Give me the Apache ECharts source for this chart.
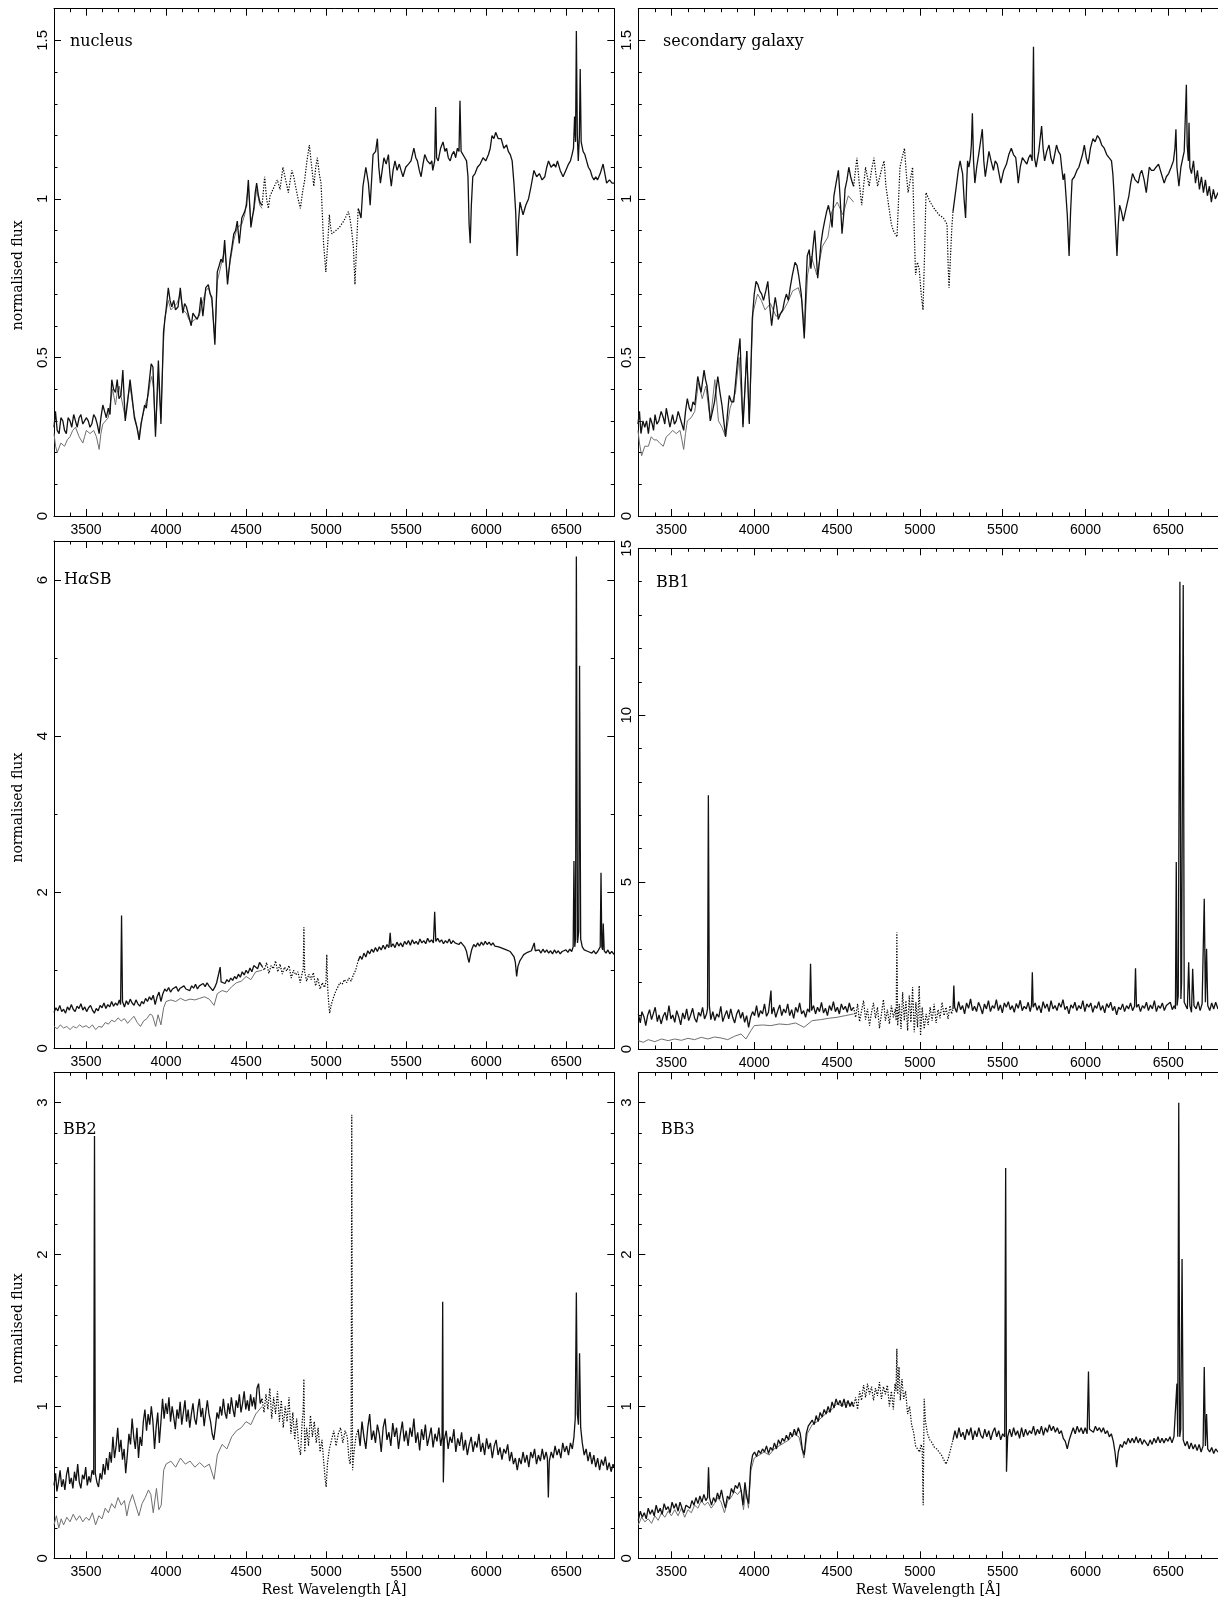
<!DOCTYPE html>
<html>
<head>
<meta charset="utf-8">
<script src="https://cdn.jsdelivr.net/npm/echarts@6/dist/echarts.min.js"></script>
<style>
html,body{margin:0;padding:0;background:#fff;}
#chart{width:1218px;height:1603px;}
</style>
</head>
<body>
<div id="chart"></div>
<script>
// Wavelength tick labels shared by every panel (Angstrom)
const xTickValues = [3500, 4000, 4500, 5000, 5500, 6000, 6500];

// ---- nucleus ----
const nucleusYTicks = [0, 0.5, 1, 1.5];
const nucleusBlue = [[3300,0.28],[3309,0.33],[3320,0.27],[3332,0.26],[3343,0.31],[3355,0.30],[3366,0.27],[3377,0.26],[3388,0.31],[3400,0.30],[3411,0.28],[3423,0.32],[3434,0.30],[3445,0.28],[3457,0.31],[3468,0.32],[3480,0.29],[3491,0.30],[3502,0.31],[3514,0.30],[3525,0.28],[3536,0.29],[3548,0.32],[3559,0.31],[3570,0.29],[3582,0.26],[3593,0.31],[3605,0.35],[3616,0.33],[3627,0.31],[3639,0.34],[3650,0.32],[3661,0.43],[3672,0.40],[3684,0.39],[3695,0.43],[3706,0.37],[3718,0.38],[3730,0.46],[3745,0.30],[3760,0.36],[3775,0.43],[3789,0.37],[3802,0.31],[3818,0.28],[3832,0.24],[3844,0.29],[3855,0.32],[3866,0.35],[3877,0.34],[3890,0.40],[3907,0.48],[3918,0.47],[3934,0.25],[3952,0.49],[3968,0.29],[3984,0.58],[4002,0.66],[4014,0.72],[4025,0.68],[4036,0.66],[4048,0.68],[4059,0.65],[4075,0.66],[4089,0.72],[4105,0.64],[4116,0.67],[4127,0.66],[4142,0.63],[4157,0.60],[4168,0.64],[4180,0.63],[4195,0.62],[4207,0.64],[4218,0.69],[4230,0.63],[4248,0.72],[4264,0.73],[4276,0.70],[4286,0.69],[4305,0.54],[4320,0.77],[4332,0.79],[4343,0.81],[4355,0.80],[4366,0.87],[4384,0.73],[4400,0.81],[4412,0.85],[4423,0.89],[4434,0.90],[4445,0.93],[4457,0.86],[4473,0.94],[4491,0.96],[4503,0.98],[4514,1.06],[4530,0.91],[4548,0.97],[4557,1.02],[4566,1.05],[4577,1.01],[4586,0.99],[4600,0.98]];
const nucleusGap = [[4600,0.98],[4616,1.07],[4628,1.00],[4639,0.97],[4650,1.01],[4661,1.01],[4677,1.04],[4695,1.06],[4712,1.03],[4730,1.10],[4747,1.06],[4764,1.02],[4776,1.06],[4786,1.09],[4798,1.07],[4809,1.04],[4825,1.00],[4839,0.97],[4852,1.02],[4866,1.06],[4880,1.12],[4895,1.17],[4910,1.10],[4923,1.04],[4935,1.10],[4945,1.13],[4957,1.08],[4968,1.05],[4984,0.86],[4998,0.77],[5010,0.86],[5020,0.95],[5028,0.91],[5036,0.89],[5060,0.90],[5082,0.91],[5110,0.93],[5139,0.96],[5148,0.94],[5157,0.91],[5170,0.85],[5180,0.73],[5190,0.85],[5200,0.97]];
const nucleusRed = [[5200,0.97],[5207,0.96],[5218,0.94],[5230,1.04],[5248,1.10],[5264,1.05],[5275,0.98],[5293,1.14],[5309,1.15],[5320,1.19],[5329,1.10],[5339,1.05],[5350,1.09],[5361,1.13],[5375,1.11],[5389,1.14],[5398,1.08],[5407,1.04],[5418,1.09],[5430,1.12],[5443,1.09],[5457,1.11],[5468,1.09],[5480,1.07],[5497,1.10],[5514,1.11],[5530,1.12],[5548,1.16],[5560,1.13],[5570,1.12],[5582,1.09],[5593,1.07],[5605,1.11],[5616,1.14],[5632,1.12],[5650,1.11],[5660,1.12],[5666,1.09],[5678,1.12],[5684,1.29],[5690,1.13],[5700,1.12],[5715,1.16],[5730,1.18],[5742,1.15],[5752,1.16],[5763,1.13],[5775,1.12],[5786,1.14],[5798,1.15],[5809,1.13],[5820,1.16],[5830,1.15],[5836,1.31],[5843,1.15],[5855,1.15],[5866,1.13],[5877,1.12],[5886,1.07],[5893,0.92],[5900,0.86],[5907,0.98],[5916,1.07],[5930,1.08],[5945,1.10],[5962,1.11],[5980,1.13],[5997,1.12],[6014,1.14],[6025,1.16],[6036,1.20],[6048,1.19],[6059,1.21],[6075,1.19],[6093,1.19],[6110,1.16],[6127,1.17],[6138,1.15],[6150,1.14],[6162,1.12],[6173,1.05],[6184,0.96],[6193,0.82],[6202,0.93],[6211,0.99],[6220,0.97],[6230,0.95],[6247,0.98],[6264,1.00],[6280,1.04],[6298,1.09],[6315,1.07],[6332,1.08],[6349,1.06],[6366,1.07],[6378,1.10],[6389,1.12],[6405,1.10],[6423,1.11],[6434,1.10],[6445,1.12],[6462,1.09],[6480,1.07],[6497,1.09],[6514,1.11],[6526,1.12],[6536,1.14],[6545,1.16],[6552,1.26],[6558,1.18],[6563,1.53],[6569,1.20],[6575,1.12],[6582,1.20],[6587,1.41],[6593,1.18],[6605,1.15],[6616,1.14],[6627,1.12],[6638,1.10],[6650,1.09],[6662,1.07],[6673,1.06],[6684,1.07],[6695,1.06],[6712,1.08],[6730,1.11],[6741,1.08],[6752,1.05],[6770,1.06],[6786,1.05],[6800,1.05]];
const nucleusFit = [[3300,0.26],[3310,0.22],[3320,0.20],[3343,0.23],[3366,0.22],[3383,0.24],[3400,0.25],[3417,0.27],[3434,0.28],[3457,0.25],[3480,0.23],[3491,0.25],[3502,0.27],[3525,0.26],[3548,0.27],[3565,0.25],[3582,0.21],[3593,0.26],[3605,0.29],[3622,0.30],[3639,0.31],[3650,0.35],[3666,0.40],[3684,0.35],[3695,0.39],[3707,0.41],[3718,0.38],[3730,0.38],[3745,0.31],[3760,0.37],[3775,0.41],[3789,0.36],[3802,0.32],[3818,0.28],[3832,0.25],[3846,0.30],[3861,0.33],[3875,0.36],[3889,0.38],[3900,0.42],[3911,0.44],[3922,0.40],[3934,0.27],[3952,0.44],[3968,0.31],[3980,0.50],[3991,0.62],[4014,0.68],[4030,0.65],[4048,0.66],[4068,0.67],[4089,0.70],[4105,0.65],[4127,0.64],[4142,0.62],[4157,0.61],[4180,0.62],[4207,0.63],[4220,0.66],[4248,0.71],[4264,0.72],[4286,0.68],[4305,0.56],[4320,0.74],[4343,0.79],[4366,0.84],[4384,0.75],[4400,0.80],[4423,0.87],[4445,0.91],[4473,0.92],[4491,0.95],[4514,1.04],[4530,0.93],[4548,0.96],[4566,1.03],[4586,0.98],[4600,0.97]];

// ---- secondary galaxy ----
const secondaryYTicks = [0, 0.5, 1, 1.5];
const secondaryBlue = [[3298,0.29],[3307,0.33],[3316,0.26],[3328,0.30],[3339,0.28],[3350,0.30],[3361,0.26],[3372,0.31],[3384,0.29],[3392,0.27],[3401,0.32],[3412,0.29],[3424,0.30],[3438,0.33],[3451,0.31],[3460,0.29],[3469,0.34],[3480,0.31],[3491,0.28],[3507,0.32],[3518,0.29],[3529,0.30],[3541,0.33],[3552,0.31],[3563,0.29],[3574,0.27],[3585,0.33],[3596,0.37],[3608,0.34],[3619,0.33],[3630,0.36],[3641,0.35],[3659,0.44],[3679,0.39],[3697,0.46],[3706,0.43],[3715,0.41],[3725,0.36],[3735,0.30],[3748,0.33],[3760,0.36],[3780,0.44],[3793,0.39],[3805,0.35],[3816,0.30],[3827,0.25],[3838,0.32],[3849,0.38],[3862,0.36],[3876,0.36],[3887,0.42],[3899,0.49],[3914,0.56],[3932,0.28],[3944,0.40],[3955,0.52],[3970,0.29],[3988,0.62],[4000,0.70],[4011,0.74],[4022,0.73],[4033,0.71],[4045,0.70],[4056,0.68],[4070,0.71],[4082,0.74],[4094,0.66],[4105,0.60],[4116,0.65],[4127,0.69],[4136,0.66],[4145,0.62],[4160,0.64],[4172,0.65],[4183,0.68],[4194,0.70],[4206,0.68],[4217,0.72],[4230,0.76],[4246,0.80],[4258,0.79],[4268,0.76],[4284,0.70],[4293,0.63],[4302,0.56],[4312,0.72],[4320,0.82],[4332,0.84],[4342,0.78],[4355,0.85],[4365,0.90],[4374,0.83],[4383,0.75],[4393,0.80],[4403,0.86],[4414,0.90],[4425,0.93],[4437,0.96],[4448,0.98],[4460,0.95],[4470,0.91],[4481,1.01],[4494,1.05],[4508,1.09],[4519,1.00],[4530,0.89],[4540,0.95],[4548,1.03],[4560,1.06],[4571,1.10],[4582,1.07],[4593,1.05],[4600,1.04]];
const secondaryGap = [[4600,1.04],[4620,1.13],[4634,1.05],[4649,0.98],[4660,1.04],[4672,1.10],[4683,1.07],[4694,1.04],[4708,1.09],[4723,1.13],[4734,1.08],[4745,1.04],[4758,1.07],[4772,1.10],[4784,1.12],[4795,1.04],[4806,1.00],[4817,0.96],[4828,0.92],[4840,0.90],[4851,0.89],[4862,0.88],[4870,0.98],[4880,1.10],[4893,1.13],[4907,1.16],[4918,1.08],[4929,1.02],[4942,1.06],[4956,1.10],[4965,0.92],[4974,0.76],[4985,0.80],[4996,0.78],[5008,0.70],[5019,0.65],[5028,0.82],[5037,1.02],[5062,0.99],[5086,0.97],[5115,0.95],[5142,0.94],[5153,0.93],[5164,0.92],[5170,0.80],[5176,0.72],[5185,0.82],[5193,0.91],[5200,0.96]];
const secondaryRed = [[5200,0.96],[5210,1.00],[5220,1.04],[5232,1.09],[5243,1.12],[5250,1.10],[5258,1.08],[5267,1.00],[5276,0.94],[5282,1.04],[5288,1.12],[5296,1.10],[5305,1.13],[5311,1.17],[5317,1.27],[5324,1.12],[5332,1.05],[5343,1.10],[5355,1.14],[5366,1.18],[5377,1.22],[5386,1.12],[5395,1.07],[5406,1.11],[5417,1.15],[5430,1.12],[5444,1.09],[5455,1.12],[5467,1.11],[5478,1.08],[5489,1.05],[5506,1.09],[5523,1.11],[5537,1.14],[5552,1.16],[5565,1.14],[5579,1.13],[5587,1.09],[5594,1.05],[5606,1.10],[5619,1.13],[5632,1.12],[5646,1.11],[5657,1.13],[5668,1.14],[5678,1.12],[5686,1.48],[5692,1.13],[5702,1.10],[5718,1.15],[5735,1.23],[5744,1.16],[5753,1.12],[5766,1.15],[5780,1.17],[5791,1.13],[5803,1.11],[5814,1.14],[5825,1.17],[5836,1.15],[5848,1.14],[5856,1.10],[5865,1.06],[5873,1.08],[5881,1.08],[5890,0.95],[5901,0.82],[5910,0.96],[5919,1.06],[5933,1.07],[5948,1.09],[5960,1.10],[5971,1.12],[5982,1.14],[5993,1.17],[6005,1.13],[6016,1.11],[6030,1.16],[6045,1.19],[6058,1.18],[6072,1.20],[6085,1.19],[6098,1.17],[6113,1.16],[6128,1.14],[6142,1.13],[6157,1.12],[6165,1.08],[6172,1.02],[6181,0.92],[6190,0.82],[6198,0.92],[6206,0.98],[6217,0.96],[6228,0.93],[6245,0.97],[6262,1.01],[6273,1.05],[6284,1.08],[6300,1.06],[6318,1.05],[6330,1.08],[6340,1.09],[6354,1.06],[6367,1.02],[6376,1.06],[6385,1.10],[6398,1.09],[6412,1.09],[6426,1.10],[6441,1.11],[6458,1.08],[6475,1.05],[6488,1.07],[6502,1.08],[6517,1.10],[6531,1.12],[6540,1.16],[6546,1.22],[6552,1.10],[6564,1.04],[6576,1.10],[6588,1.13],[6596,1.15],[6609,1.36],[6614,1.17],[6621,1.12],[6625,1.24],[6630,1.10],[6640,1.08],[6652,1.12],[6664,1.05],[6676,1.09],[6688,1.03],[6700,1.07],[6712,1.02],[6724,1.06],[6736,1.01],[6748,1.04],[6760,0.99],[6772,1.03],[6784,1.00],[6800,1.02]];
const secondaryFit = [[3298,0.27],[3307,0.23],[3320,0.19],[3339,0.22],[3361,0.22],[3378,0.25],[3395,0.24],[3412,0.24],[3429,0.23],[3451,0.22],[3469,0.25],[3491,0.26],[3507,0.27],[3529,0.26],[3552,0.27],[3563,0.24],[3574,0.21],[3585,0.26],[3596,0.30],[3619,0.31],[3641,0.33],[3663,0.42],[3686,0.37],[3708,0.41],[3735,0.30],[3762,0.43],[3784,0.30],[3805,0.28],[3827,0.25],[3854,0.34],[3887,0.39],[3908,0.50],[3932,0.29],[3955,0.52],[3970,0.30],[3992,0.64],[4020,0.70],[4043,0.68],[4065,0.65],[4098,0.67],[4132,0.63],[4165,0.64],[4199,0.67],[4232,0.71],[4266,0.72],[4288,0.68],[4304,0.58],[4322,0.76],[4344,0.82],[4378,0.76],[4411,0.85],[4445,0.88],[4468,0.96],[4501,0.99],[4535,0.95],[4568,1.01],[4600,0.99]];

// ---- H-alpha starburst ----
const hasbYTicks = [0, 2, 4, 6];
const hasbBlue = [[3300,0.46],[3312,0.52],[3324,0.48],[3336,0.55],[3348,0.47],[3360,0.50],[3372,0.45],[3384,0.53],[3396,0.49],[3408,0.56],[3420,0.50],[3432,0.47],[3444,0.54],[3456,0.51],[3468,0.57],[3480,0.49],[3492,0.53],[3504,0.47],[3516,0.52],[3528,0.55],[3540,0.49],[3552,0.45],[3564,0.51],[3576,0.48],[3588,0.55],[3600,0.52],[3612,0.58],[3624,0.51],[3636,0.56],[3648,0.53],[3660,0.60],[3672,0.54],[3684,0.58],[3696,0.55],[3708,0.62],[3716,0.56],[3722,1.70],[3728,0.60],[3740,0.53],[3752,0.61],[3764,0.56],[3776,0.63],[3788,0.58],[3800,0.55],[3812,0.62],[3824,0.57],[3836,0.54],[3848,0.60],[3860,0.57],[3872,0.64],[3884,0.60],[3896,0.66],[3908,0.62],[3920,0.68],[3932,0.56],[3944,0.66],[3956,0.72],[3968,0.60],[3980,0.70],[3992,0.76],[4004,0.73],[4016,0.78],[4028,0.72],[4040,0.76],[4052,0.74],[4064,0.79],[4076,0.73],[4088,0.77],[4100,0.75],[4112,0.80],[4124,0.76],[4136,0.78],[4148,0.74],[4160,0.80],[4172,0.77],[4184,0.82],[4196,0.76],[4208,0.80],[4220,0.78],[4232,0.83],[4244,0.79],[4256,0.84],[4268,0.80],[4280,0.82],[4292,0.74],[4304,0.78],[4316,0.84],[4328,0.82],[4338,1.04],[4344,0.85],[4356,0.86],[4368,0.83],[4380,0.88],[4392,0.85],[4404,0.90],[4416,0.87],[4428,0.92],[4440,0.89],[4452,0.95],[4464,0.91],[4476,0.98],[4488,0.94],[4500,1.00],[4512,0.96],[4524,1.03],[4536,0.98],[4548,1.06],[4560,1.08],[4572,1.02],[4584,1.10],[4600,1.05]];
const hasbGap = [[4600,1.05],[4614,1.00],[4628,1.10],[4642,0.96],[4656,1.06],[4670,1.02],[4684,1.12],[4698,0.98],[4712,1.08],[4726,0.95],[4740,1.04],[4754,0.99],[4768,1.06],[4782,0.90],[4796,1.00],[4810,0.94],[4824,0.98],[4838,0.84],[4850,0.96],[4857,1.02],[4861,1.55],[4866,0.98],[4878,0.86],[4892,0.95],[4906,0.88],[4920,0.97],[4934,0.80],[4948,0.90],[4962,0.76],[4976,0.84],[4990,0.78],[4999,0.85],[5004,1.20],[5010,0.76],[5016,0.58],[5022,0.45],[5032,0.56],[5044,0.64],[5058,0.72],[5072,0.78],[5086,0.84],[5100,0.82],[5114,0.88],[5128,0.84],[5142,0.90],[5156,0.86],[5170,0.94],[5184,1.00],[5200,1.12]];
const hasbRed = [[5200,1.12],[5212,1.18],[5224,1.14],[5236,1.22],[5248,1.17],[5260,1.25],[5272,1.21],[5284,1.27],[5296,1.23],[5308,1.29],[5320,1.24],[5332,1.30],[5344,1.26],[5356,1.32],[5368,1.27],[5380,1.33],[5392,1.29],[5400,1.48],[5406,1.30],[5418,1.34],[5430,1.29],[5442,1.36],[5454,1.31],[5466,1.35],[5478,1.30],[5490,1.37],[5502,1.33],[5514,1.38],[5526,1.32],[5538,1.39],[5550,1.34],[5562,1.37],[5574,1.33],[5586,1.40],[5598,1.35],[5610,1.38],[5622,1.34],[5634,1.41],[5646,1.36],[5658,1.39],[5670,1.35],[5678,1.75],[5685,1.37],[5697,1.41],[5709,1.36],[5721,1.39],[5733,1.34],[5745,1.38],[5757,1.35],[5769,1.40],[5781,1.34],[5793,1.38],[5805,1.35],[5817,1.37],[5829,1.33],[5841,1.36],[5853,1.34],[5865,1.30],[5877,1.24],[5886,1.15],[5893,1.10],[5900,1.18],[5910,1.27],[5922,1.33],[5934,1.30],[5946,1.35],[5958,1.31],[5970,1.36],[5982,1.32],[5994,1.37],[6006,1.33],[6018,1.36],[6030,1.32],[6042,1.35],[6054,1.31],[6066,1.33],[6078,1.30],[6090,1.32],[6102,1.28],[6114,1.30],[6126,1.26],[6138,1.28],[6150,1.24],[6162,1.22],[6174,1.17],[6182,1.10],[6190,0.92],[6198,1.05],[6210,1.12],[6222,1.16],[6234,1.20],[6246,1.18],[6258,1.23],[6270,1.21],[6282,1.25],[6294,1.24],[6300,1.35],[6306,1.25],[6318,1.23],[6330,1.26],[6342,1.22],[6354,1.27],[6366,1.23],[6378,1.26],[6390,1.22],[6402,1.25],[6414,1.21],[6426,1.26],[6438,1.22],[6450,1.25],[6462,1.21],[6474,1.24],[6486,1.22],[6498,1.26],[6510,1.23],[6522,1.27],[6534,1.24],[6543,1.30],[6548,2.40],[6553,1.30],[6558,1.40],[6563,6.30],[6570,1.35],[6578,1.50],[6583,4.90],[6590,1.40],[6600,1.30],[6612,1.26],[6624,1.28],[6636,1.24],[6648,1.26],[6660,1.22],[6672,1.25],[6684,1.21],[6696,1.24],[6706,1.22],[6712,1.30],[6717,2.25],[6722,1.30],[6727,1.26],[6731,1.60],[6737,1.25],[6748,1.22],[6760,1.26],[6772,1.21],[6784,1.24],[6800,1.20]];
const hasbFit = [[3300,0.28],[3320,0.25],[3340,0.30],[3360,0.26],[3380,0.28],[3400,0.24],[3420,0.28],[3440,0.26],[3460,0.30],[3480,0.27],[3500,0.29],[3520,0.26],[3540,0.30],[3560,0.24],[3580,0.28],[3600,0.27],[3620,0.33],[3640,0.31],[3660,0.36],[3680,0.34],[3700,0.39],[3720,0.35],[3740,0.38],[3760,0.32],[3780,0.37],[3800,0.41],[3820,0.33],[3840,0.28],[3860,0.35],[3880,0.38],[3900,0.44],[3915,0.42],[3935,0.28],[3950,0.43],[3968,0.30],[3985,0.52],[4000,0.60],[4030,0.62],[4060,0.60],[4090,0.64],[4120,0.61],[4150,0.63],[4180,0.62],[4210,0.64],[4240,0.66],[4270,0.63],[4300,0.55],[4320,0.70],[4350,0.74],[4380,0.72],[4410,0.79],[4440,0.84],[4470,0.86],[4500,0.92],[4530,0.88],[4560,0.98],[4600,1.00]];

// ---- BB1 ----
const bb1YTicks = [0, 5, 10, 15];
const bb1Blue = [[3300,1.05],[3312,0.78],[3322,1.12],[3335,0.95],[3345,0.70],[3356,1.00],[3368,1.18],[3380,0.88],[3390,0.92],[3402,1.25],[3415,0.82],[3425,1.02],[3438,0.75],[3450,0.98],[3462,1.10],[3472,0.86],[3485,1.30],[3497,0.90],[3508,1.02],[3520,0.80],[3532,1.15],[3545,0.95],[3556,0.72],[3568,1.08],[3580,0.90],[3592,1.20],[3604,0.85],[3615,1.00],[3628,1.22],[3640,0.92],[3652,0.80],[3664,1.10],[3676,0.98],[3688,1.25],[3700,0.90],[3712,1.05],[3718,1.20],[3723,7.60],[3729,1.30],[3738,0.88],[3750,1.12],[3762,0.85],[3774,1.05],[3786,0.95],[3798,1.28],[3810,0.82],[3822,1.00],[3834,1.15],[3846,0.90],[3858,1.20],[3870,0.95],[3882,0.78],[3894,1.05],[3906,1.18],[3918,0.92],[3930,1.10],[3942,0.80],[3954,1.00],[3966,0.65],[3978,0.95],[3990,1.12],[4002,1.00],[4014,1.30],[4026,0.95],[4038,1.15],[4050,1.05],[4062,1.35],[4074,0.98],[4086,1.10],[4096,1.05],[4101,1.75],[4106,1.05],[4118,1.25],[4130,0.95],[4142,1.15],[4154,1.32],[4166,1.00],[4178,1.20],[4190,1.08],[4202,1.35],[4214,1.00],[4226,1.18],[4238,0.92],[4250,1.25],[4262,1.10],[4274,1.38],[4286,1.05],[4298,1.15],[4310,0.95],[4322,1.20],[4334,1.10],[4340,2.55],[4346,1.15],[4358,1.30],[4370,1.05],[4382,1.25],[4394,1.12],[4406,1.40],[4418,1.08],[4430,1.22],[4442,1.00],[4454,1.30],[4466,1.15],[4478,1.42],[4490,1.12],[4502,1.25],[4514,1.05],[4526,1.35],[4538,1.18],[4550,1.28],[4562,1.10],[4574,1.38],[4586,1.15],[4600,1.25]];
const bb1Gap = [[4600,1.25],[4612,0.95],[4624,1.35],[4636,0.82],[4648,1.15],[4660,1.45],[4672,0.88],[4684,1.20],[4696,0.70],[4708,1.10],[4720,1.38],[4732,0.92],[4744,1.25],[4756,0.62],[4768,1.05],[4780,1.48],[4792,0.85],[4804,1.18],[4816,0.75],[4828,1.30],[4840,0.95],[4852,1.20],[4857,0.85],[4861,3.50],[4866,0.70],[4876,1.35],[4886,0.60],[4896,1.70],[4906,0.85],[4916,1.45],[4926,0.55],[4936,1.60],[4946,0.80],[4956,1.85],[4966,0.50],[4976,1.40],[4986,0.65],[4996,1.90],[5004,0.40],[5014,1.25],[5026,0.60],[5038,1.05],[5050,0.72],[5062,1.25],[5074,0.85],[5086,1.35],[5098,0.78],[5110,1.18],[5122,0.92],[5134,1.40],[5146,1.00],[5158,1.25],[5170,0.90],[5182,1.30],[5192,1.05],[5200,1.20]];
const bb1Red = [[5200,1.20],[5205,1.90],[5210,1.25],[5222,1.10],[5234,1.42],[5246,1.18],[5258,1.30],[5270,1.05],[5282,1.38],[5294,1.22],[5306,1.50],[5318,1.15],[5330,1.28],[5342,1.12],[5354,1.40],[5366,1.25],[5378,1.05],[5390,1.35],[5402,1.20],[5414,1.45],[5426,1.12],[5438,1.30],[5450,1.22],[5462,1.48],[5474,1.15],[5486,1.32],[5498,1.08],[5510,1.38],[5522,1.25],[5534,1.42],[5546,1.18],[5558,1.30],[5570,1.10],[5582,1.36],[5594,1.22],[5606,1.46],[5618,1.15],[5630,1.28],[5642,1.20],[5654,1.40],[5666,1.12],[5674,1.30],[5679,2.30],[5684,1.25],[5696,1.38],[5708,1.16],[5720,1.30],[5732,1.08],[5744,1.42],[5756,1.22],[5768,1.35],[5780,1.12],[5792,1.45],[5804,1.20],[5816,1.30],[5828,1.15],[5840,1.38],[5852,1.25],[5864,1.48],[5876,1.18],[5888,1.28],[5900,1.05],[5912,1.32],[5924,1.22],[5936,1.40],[5948,1.15],[5960,1.30],[5972,1.20],[5984,1.45],[5996,1.12],[6008,1.35],[6020,1.25],[6032,1.38],[6044,1.10],[6056,1.30],[6068,1.22],[6080,1.42],[6092,1.16],[6104,1.30],[6116,1.08],[6128,1.36],[6140,1.24],[6152,1.40],[6164,1.15],[6176,1.28],[6188,1.02],[6200,1.25],[6212,1.18],[6224,1.35],[6236,1.12],[6248,1.30],[6260,1.20],[6272,1.38],[6284,1.15],[6296,1.28],[6302,2.42],[6308,1.25],[6320,1.34],[6332,1.12],[6344,1.30],[6356,1.22],[6368,1.40],[6380,1.15],[6392,1.32],[6404,1.20],[6416,1.45],[6428,1.12],[6440,1.30],[6452,1.22],[6464,1.38],[6476,1.15],[6488,1.30],[6500,1.25],[6512,1.40],[6524,1.18],[6536,1.30],[6543,1.20],[6548,5.60],[6553,1.30],[6560,1.60],[6570,14.0],[6576,1.50],[6580,2.00],[6590,13.9],[6596,1.40],[6605,1.30],[6615,1.20],[6623,2.60],[6630,1.30],[6640,1.10],[6647,2.40],[6655,1.30],[6668,1.20],[6680,1.42],[6692,1.15],[6704,1.35],[6712,1.40],[6717,4.50],[6724,1.40],[6731,3.00],[6738,1.30],[6750,1.15],[6762,1.38],[6774,1.20],[6786,1.40],[6800,1.20]];
const bb1Fit = [[3300,0.25],[3330,0.20],[3360,0.28],[3400,0.22],[3440,0.30],[3480,0.25],[3520,0.30],[3560,0.26],[3600,0.32],[3640,0.28],[3680,0.35],[3720,0.30],[3760,0.36],[3800,0.33],[3840,0.28],[3880,0.38],[3920,0.45],[3950,0.30],[3980,0.55],[4000,0.70],[4050,0.72],[4100,0.70],[4150,0.75],[4200,0.73],[4250,0.78],[4300,0.65],[4350,0.85],[4400,0.88],[4450,0.92],[4500,0.95],[4550,1.00],[4600,1.05]];

// ---- BB2 ----
const bb2YTicks = [0, 1, 2, 3];
const bb2Blue = [[3300,0.48],[3310,0.56],[3318,0.44],[3328,0.50],[3338,0.58],[3348,0.47],[3358,0.52],[3368,0.45],[3378,0.55],[3388,0.60],[3398,0.49],[3408,0.53],[3418,0.46],[3428,0.57],[3438,0.51],[3448,0.62],[3458,0.50],[3468,0.46],[3478,0.55],[3488,0.52],[3498,0.60],[3508,0.48],[3518,0.54],[3528,0.50],[3538,0.58],[3548,0.55],[3553,2.78],[3558,0.56],[3568,0.50],[3578,0.47],[3588,0.56],[3598,0.52],[3608,0.62],[3618,0.55],[3628,0.66],[3638,0.58],[3648,0.70],[3658,0.63],[3668,0.80],[3678,0.66],[3688,0.74],[3698,0.86],[3708,0.70],[3718,0.78],[3728,0.65],[3738,0.72],[3748,0.56],[3758,0.68],[3768,0.82],[3778,0.75],[3788,0.92],[3798,0.80],[3808,0.72],[3818,0.86],[3828,0.66],[3838,0.80],[3848,0.74],[3858,0.90],[3868,0.98],[3878,0.84],[3888,0.95],[3898,0.88],[3908,1.00],[3918,0.90],[3928,0.72],[3938,0.86],[3948,0.96],[3958,0.76],[3968,0.90],[3978,1.05],[3988,0.92],[3998,1.02],[4008,0.95],[4018,1.06],[4028,0.90],[4038,1.00],[4048,0.93],[4058,0.85],[4068,0.98],[4078,0.92],[4088,1.03],[4098,0.88],[4108,0.96],[4118,1.04],[4128,0.90],[4138,0.98],[4148,0.86],[4158,0.95],[4168,1.02],[4178,0.92],[4188,0.88],[4198,0.98],[4208,1.05],[4218,0.93],[4228,0.99],[4238,0.87],[4248,0.96],[4258,1.04],[4268,0.95],[4278,0.90],[4288,0.82],[4298,0.78],[4308,0.86],[4318,0.96],[4328,0.92],[4338,1.00],[4348,0.94],[4358,1.05],[4368,0.96],[4378,0.92],[4388,1.02],[4398,0.95],[4408,1.06],[4418,0.98],[4428,0.93],[4438,1.04],[4448,0.99],[4458,1.08],[4468,0.96],[4478,1.02],[4488,1.10],[4498,0.98],[4508,1.04],[4518,0.97],[4528,1.08],[4538,1.00],[4548,1.06],[4558,0.98],[4568,1.12],[4578,1.15],[4588,1.02],[4600,1.05]];
const bb2Gap = [[4600,1.05],[4612,0.96],[4624,1.08],[4636,0.98],[4648,1.12],[4660,0.92],[4672,1.06],[4684,0.95],[4696,1.10],[4708,0.90],[4720,1.04],[4732,0.86],[4744,1.00],[4756,0.90],[4768,1.06],[4780,0.82],[4792,0.96],[4804,0.78],[4816,0.92],[4828,0.74],[4840,0.68],[4850,0.90],[4856,0.96],[4861,1.18],[4866,0.70],[4878,0.86],[4890,0.74],[4902,0.94],[4914,0.80],[4926,0.90],[4938,0.76],[4950,0.86],[4962,0.70],[4974,0.78],[4986,0.62],[4994,0.52],[5000,0.47],[5008,0.62],[5020,0.72],[5034,0.78],[5048,0.84],[5062,0.74],[5076,0.82],[5090,0.86],[5104,0.76],[5118,0.84],[5132,0.80],[5142,0.66],[5150,0.62],[5156,0.75],[5160,2.92],[5165,0.58],[5174,0.70],[5186,0.80],[5200,0.85]];
const bb2Red = [[5200,0.85],[5212,0.74],[5224,0.90],[5236,0.80],[5248,0.72],[5260,0.86],[5272,0.95],[5284,0.78],[5296,0.84],[5308,0.76],[5320,0.88],[5332,0.82],[5344,0.70],[5356,0.86],[5368,0.92],[5380,0.78],[5392,0.83],[5404,0.74],[5416,0.89],[5428,0.80],[5440,0.86],[5452,0.72],[5464,0.82],[5476,0.90],[5488,0.77],[5500,0.84],[5512,0.74],[5524,0.86],[5536,0.80],[5548,0.92],[5560,0.76],[5572,0.83],[5584,0.71],[5596,0.85],[5608,0.78],[5620,0.88],[5632,0.74],[5644,0.80],[5656,0.86],[5668,0.73],[5680,0.82],[5692,0.77],[5704,0.86],[5716,0.74],[5724,0.80],[5728,1.69],[5732,0.50],[5738,0.78],[5750,0.84],[5762,0.72],[5774,0.80],[5786,0.76],[5798,0.85],[5810,0.70],[5822,0.79],[5834,0.74],[5846,0.83],[5858,0.71],[5870,0.78],[5882,0.68],[5894,0.75],[5906,0.80],[5918,0.70],[5930,0.77],[5942,0.73],[5954,0.82],[5966,0.70],[5978,0.76],[5990,0.68],[6002,0.79],[6014,0.72],[6026,0.76],[6038,0.66],[6050,0.74],[6062,0.78],[6074,0.68],[6086,0.73],[6098,0.65],[6110,0.72],[6122,0.69],[6134,0.75],[6146,0.64],[6158,0.70],[6170,0.62],[6182,0.66],[6194,0.58],[6206,0.66],[6218,0.62],[6230,0.70],[6242,0.63],[6254,0.68],[6266,0.60],[6278,0.70],[6290,0.66],[6302,0.72],[6314,0.62],[6326,0.68],[6338,0.64],[6350,0.72],[6362,0.65],[6374,0.70],[6382,0.66],[6388,0.40],[6394,0.64],[6406,0.70],[6418,0.66],[6430,0.74],[6442,0.68],[6454,0.72],[6466,0.66],[6478,0.76],[6490,0.70],[6502,0.74],[6514,0.68],[6526,0.76],[6538,0.72],[6548,0.80],[6556,0.92],[6563,1.75],[6569,0.95],[6576,0.88],[6583,1.35],[6590,0.86],[6600,0.76],[6612,0.68],[6624,0.72],[6636,0.64],[6648,0.70],[6660,0.62],[6672,0.68],[6684,0.60],[6696,0.66],[6708,0.58],[6720,0.65],[6732,0.61],[6744,0.67],[6756,0.58],[6768,0.63],[6780,0.57],[6792,0.62],[6800,0.60]];
const bb2Fit = [[3300,0.22],[3315,0.28],[3330,0.20],[3345,0.26],[3360,0.22],[3380,0.27],[3400,0.24],[3420,0.29],[3440,0.25],[3460,0.28],[3480,0.24],[3500,0.27],[3520,0.25],[3540,0.30],[3560,0.22],[3580,0.28],[3600,0.26],[3620,0.33],[3640,0.30],[3660,0.36],[3680,0.33],[3700,0.40],[3720,0.35],[3740,0.38],[3755,0.28],[3770,0.36],[3790,0.42],[3810,0.35],[3830,0.28],[3850,0.36],[3870,0.40],[3890,0.45],[3905,0.42],[3920,0.30],[3940,0.46],[3955,0.32],[3970,0.35],[3985,0.58],[4000,0.62],[4030,0.64],[4060,0.60],[4090,0.66],[4120,0.62],[4150,0.64],[4180,0.60],[4210,0.63],[4240,0.60],[4270,0.62],[4300,0.52],[4320,0.68],[4350,0.75],[4380,0.72],[4410,0.80],[4440,0.84],[4470,0.86],[4500,0.90],[4530,0.88],[4560,0.95],[4600,1.00]];

// ---- BB3 ----
const bb3YTicks = [0, 1, 2, 3];
const bb3Blue = [[3300,0.25],[3312,0.31],[3324,0.27],[3336,0.30],[3348,0.26],[3360,0.33],[3372,0.29],[3384,0.32],[3396,0.28],[3408,0.35],[3420,0.30],[3432,0.33],[3444,0.29],[3456,0.36],[3468,0.32],[3480,0.34],[3492,0.30],[3504,0.37],[3516,0.33],[3528,0.36],[3540,0.31],[3552,0.37],[3564,0.33],[3576,0.30],[3588,0.35],[3600,0.36],[3612,0.33],[3624,0.38],[3636,0.35],[3648,0.40],[3660,0.36],[3672,0.41],[3684,0.37],[3696,0.42],[3708,0.38],[3718,0.40],[3724,0.60],[3730,0.40],[3742,0.35],[3754,0.40],[3766,0.37],[3778,0.43],[3790,0.39],[3802,0.45],[3814,0.38],[3826,0.33],[3838,0.41],[3850,0.39],[3862,0.46],[3874,0.43],[3886,0.48],[3898,0.46],[3910,0.50],[3922,0.44],[3932,0.35],[3944,0.50],[3956,0.40],[3966,0.36],[3978,0.60],[3990,0.68],[4002,0.70],[4014,0.67],[4026,0.71],[4038,0.69],[4050,0.72],[4062,0.70],[4074,0.74],[4086,0.69],[4098,0.73],[4110,0.71],[4122,0.76],[4134,0.72],[4146,0.78],[4158,0.75],[4170,0.79],[4182,0.77],[4194,0.81],[4206,0.78],[4218,0.83],[4230,0.80],[4242,0.85],[4254,0.81],[4266,0.86],[4278,0.82],[4290,0.72],[4302,0.68],[4314,0.82],[4326,0.87],[4338,0.89],[4350,0.91],[4362,0.88],[4374,0.94],[4386,0.90],[4398,0.96],[4410,0.93],[4422,0.98],[4434,0.95],[4446,1.00],[4458,0.96],[4470,1.03],[4482,0.99],[4494,1.05],[4506,1.01],[4518,1.04],[4530,1.00],[4542,1.05],[4554,0.99],[4566,1.04],[4578,1.00],[4590,1.03],[4600,1.00]];
const bb3Gap = [[4600,1.00],[4612,1.06],[4624,0.98],[4636,1.10],[4648,1.04],[4660,1.14],[4672,1.06],[4684,1.15],[4696,1.08],[4708,1.13],[4720,1.04],[4732,1.12],[4744,1.07],[4756,1.16],[4768,1.05],[4780,1.13],[4792,1.08],[4804,1.14],[4816,1.00],[4828,1.10],[4840,0.98],[4850,1.15],[4856,1.10],[4861,1.38],[4866,1.08],[4874,1.26],[4882,1.04],[4892,1.18],[4902,1.05],[4914,1.10],[4926,0.95],[4938,1.00],[4950,0.88],[4962,0.83],[4974,0.74],[4986,0.72],[4998,0.70],[5008,0.75],[5014,0.72],[5020,0.35],[5026,1.05],[5034,0.90],[5046,0.82],[5060,0.78],[5074,0.76],[5088,0.73],[5102,0.72],[5116,0.70],[5130,0.68],[5144,0.65],[5158,0.62],[5172,0.66],[5186,0.72],[5200,0.78]];
const bb3Red = [[5200,0.78],[5212,0.84],[5224,0.79],[5236,0.86],[5248,0.80],[5260,0.83],[5272,0.78],[5284,0.85],[5296,0.81],[5308,0.86],[5320,0.78],[5332,0.84],[5344,0.80],[5356,0.86],[5368,0.81],[5380,0.79],[5392,0.85],[5404,0.80],[5416,0.84],[5428,0.78],[5440,0.83],[5452,0.86],[5464,0.80],[5476,0.84],[5488,0.78],[5500,0.82],[5512,0.80],[5518,2.57],[5523,0.57],[5530,0.80],[5542,0.85],[5554,0.80],[5566,0.86],[5578,0.81],[5590,0.84],[5602,0.79],[5614,0.86],[5626,0.80],[5638,0.85],[5650,0.81],[5662,0.84],[5674,0.82],[5686,0.87],[5698,0.81],[5710,0.85],[5722,0.82],[5734,0.87],[5746,0.81],[5758,0.86],[5770,0.83],[5782,0.88],[5794,0.84],[5806,0.87],[5818,0.83],[5830,0.86],[5842,0.82],[5854,0.84],[5866,0.79],[5878,0.77],[5890,0.72],[5902,0.78],[5914,0.82],[5926,0.86],[5938,0.82],[5950,0.87],[5962,0.83],[5974,0.86],[5986,0.82],[5998,0.86],[6010,0.82],[6018,1.23],[6024,0.85],[6036,0.86],[6048,0.83],[6060,0.87],[6072,0.84],[6084,0.86],[6096,0.83],[6108,0.86],[6120,0.82],[6132,0.84],[6144,0.80],[6156,0.82],[6168,0.77],[6178,0.70],[6188,0.60],[6198,0.70],[6210,0.75],[6222,0.73],[6234,0.77],[6246,0.75],[6258,0.79],[6270,0.76],[6282,0.79],[6294,0.76],[6306,0.80],[6318,0.76],[6330,0.79],[6342,0.75],[6354,0.78],[6366,0.76],[6378,0.74],[6390,0.78],[6402,0.75],[6414,0.79],[6426,0.76],[6438,0.80],[6450,0.76],[6462,0.79],[6474,0.76],[6486,0.79],[6498,0.77],[6510,0.80],[6522,0.76],[6534,0.80],[6545,0.80],[6552,1.15],[6557,0.80],[6563,3.00],[6569,0.80],[6575,0.85],[6583,1.97],[6590,0.78],[6602,0.74],[6614,0.77],[6626,0.72],[6638,0.76],[6650,0.72],[6662,0.75],[6674,0.71],[6686,0.75],[6698,0.70],[6710,0.74],[6717,1.26],[6724,0.74],[6731,0.95],[6738,0.72],[6750,0.70],[6762,0.73],[6774,0.69],[6786,0.72],[6800,0.70]];
const bb3Fit = [[3300,0.22],[3320,0.27],[3340,0.24],[3360,0.26],[3380,0.23],[3400,0.28],[3420,0.25],[3440,0.30],[3460,0.27],[3480,0.31],[3500,0.28],[3520,0.32],[3540,0.28],[3560,0.33],[3580,0.27],[3600,0.32],[3620,0.30],[3640,0.35],[3660,0.33],[3680,0.38],[3700,0.35],[3720,0.37],[3740,0.33],[3760,0.36],[3780,0.40],[3800,0.37],[3820,0.30],[3840,0.38],[3860,0.40],[3880,0.44],[3900,0.42],[3920,0.45],[3935,0.32],[3950,0.45],[3965,0.33],[3980,0.58],[4000,0.66],[4030,0.68],[4060,0.70],[4090,0.68],[4120,0.72],[4150,0.74],[4180,0.76],[4210,0.78],[4240,0.82],[4270,0.80],[4300,0.66],[4320,0.82],[4350,0.88],[4380,0.90],[4410,0.93],[4440,0.96],[4470,0.98],[4500,1.02],[4530,1.00],[4560,1.03],[4600,1.00]];

// Panel layout: two columns, three rows
const panels = [
  {label: 'nucleus', blue: nucleusBlue, gap: nucleusGap, red: nucleusRed, fit: nucleusFit,
   yMax: 1.6, yMinor: 0.1, yTicks: nucleusYTicks, box: {left: 54, top: 8.7, width: 560.3, height: 507.3},
   labelAt: [70, 42], yTitle: true, xTitle: false, rightTicks: true},
  {label: 'secondary galaxy', blue: secondaryBlue, gap: secondaryGap, red: secondaryRed, fit: secondaryFit,
   yMax: 1.6, yMinor: 0.1, yTicks: secondaryYTicks, box: {left: 638.3, top: 8.7, width: 585.2, height: 507.3},
   labelAt: [663, 42], yTitle: false, xTitle: false, rightTicks: false},
  {label: 'HαSB', blue: hasbBlue, gap: hasbGap, red: hasbRed, fit: hasbFit,
   yMax: 6.5, yMinor: 1, yTicks: hasbYTicks, box: {left: 54, top: 541, width: 560.3, height: 507.3},
   labelAt: [64, 580], yTitle: true, xTitle: false, rightTicks: true},
  {label: 'BB1', blue: bb1Blue, gap: bb1Gap, red: bb1Red, fit: bb1Fit,
   yMax: 15, yMinor: 1, yTicks: bb1YTicks, box: {left: 638.3, top: 548.3, width: 585.2, height: 500.7},
   labelAt: [656, 583], yTitle: false, xTitle: false, rightTicks: false},
  {label: 'BB2', blue: bb2Blue, gap: bb2Gap, red: bb2Red, fit: bb2Fit,
   yMax: 3.2, yMinor: 0.2, yTicks: bb2YTicks, box: {left: 54, top: 1072.3, width: 560.3, height: 486},
   labelAt: [63, 1130], yTitle: true, xTitle: true, rightTicks: true},
  {label: 'BB3', blue: bb3Blue, gap: bb3Gap, red: bb3Red, fit: bb3Fit,
   yMax: 3.2, yMinor: 0.2, yTicks: bb3YTicks, box: {left: 638.3, top: 1072.3, width: 585.2, height: 486},
   labelAt: [661, 1130], yTitle: false, xTitle: true, rightTicks: false}
];

const INK = '#000';
const tickFont = "'Liberation Sans Narrow', 'Liberation Sans', Arial, sans-serif";
const textFont = "'DejaVu Serif', 'Liberation Serif', serif";
const axisLine = {show: true, onZero: false, lineStyle: {color: INK, width: 1}};
const hiddenLine = {show: false, onZero: false};
const plainNumber = v => String(v);

const grid = [], xAxis = [], yAxis = [], series = [], graphic = [];

panels.forEach((p, i) => {
  grid.push({left: p.box.left, top: p.box.top, width: p.box.width, height: p.box.height});

  const xBase = xAxis.length;
  const xCommon = {gridIndex: i, type: 'value', min: 3300, max: 6800, splitLine: {show: false}};
  // bottom axis: minor ticks every 100 A plus labels
  xAxis.push(Object.assign({}, xCommon, {
    position: 'bottom', interval: 100, axisLine: axisLine,
    axisTick: {show: true, inside: true, length: 3.5, lineStyle: {color: INK, width: 1}},
    axisLabel: {show: true, customValues: xTickValues, formatter: plainNumber, margin: 7, color: INK, fontSize: 14, fontFamily: tickFont},
    name: p.xTitle ? 'Rest Wavelength [Å]' : '', nameLocation: 'middle', nameGap: 25,
    nameTextStyle: {color: INK, fontSize: 14, fontFamily: textFont}
  }));
  // bottom axis: major ticks every 500 A
  xAxis.push(Object.assign({}, xCommon, {
    position: 'bottom', axisLine: hiddenLine,
    axisTick: {show: true, inside: true, length: 7, customValues: xTickValues, lineStyle: {color: INK, width: 1}},
    axisLabel: {show: false}
  }));
  // mirrored top axis
  xAxis.push(Object.assign({}, xCommon, {
    position: 'top', interval: 100, axisLine: axisLine,
    axisTick: {show: true, inside: true, length: 3.5, lineStyle: {color: INK, width: 1}},
    axisLabel: {show: false}
  }));
  xAxis.push(Object.assign({}, xCommon, {
    position: 'top', axisLine: hiddenLine,
    axisTick: {show: true, inside: true, length: 7, customValues: xTickValues, lineStyle: {color: INK, width: 1}},
    axisLabel: {show: false}
  }));

  const yBase = yAxis.length;
  const yCommon = {gridIndex: i, type: 'value', min: 0, max: p.yMax, splitLine: {show: false}};
  yAxis.push(Object.assign({}, yCommon, {
    position: 'left', interval: p.yMinor, axisLine: axisLine,
    axisTick: {show: true, inside: true, length: 3.5, lineStyle: {color: INK, width: 1}},
    axisLabel: {show: true, customValues: p.yTicks, formatter: plainNumber, rotate: 90, margin: 4, color: INK, fontSize: 15, fontFamily: tickFont},
    name: p.yTitle ? 'normalised flux' : '', nameLocation: 'middle', nameGap: 29, nameRotate: 90,
    nameTextStyle: {color: INK, fontSize: 14, fontFamily: textFont, padding: [0, 26, 0, 0]}
  }));
  yAxis.push(Object.assign({}, yCommon, {
    position: 'left', axisLine: hiddenLine,
    axisTick: {show: true, inside: true, length: 7, customValues: p.yTicks, lineStyle: {color: INK, width: 1}},
    axisLabel: {show: false}
  }));
  yAxis.push(Object.assign({}, yCommon, {
    position: 'right', interval: p.yMinor, axisLine: axisLine,
    axisTick: {show: p.rightTicks, inside: true, length: 3.5, lineStyle: {color: INK, width: 1}},
    axisLabel: {show: false}
  }));
  yAxis.push(Object.assign({}, yCommon, {
    position: 'right', axisLine: hiddenLine,
    axisTick: {show: p.rightTicks, inside: true, length: 7, customValues: p.yTicks, lineStyle: {color: INK, width: 1}},
    axisLabel: {show: false}
  }));

  const lineBase = {type: 'line', xAxisIndex: xBase, yAxisIndex: yBase, showSymbol: false, symbol: 'none',
    animation: false, silent: true, clip: true};
  // model fit (grey), drawn underneath
  series.push(Object.assign({}, lineBase, {data: p.fit, z: 2,
    lineStyle: {color: '#6f6f6f', width: 1}}));
  // observed spectrum, blue and red parts
  series.push(Object.assign({}, lineBase, {data: p.blue, z: 3,
    lineStyle: {color: '#111', width: 1.3}}));
  series.push(Object.assign({}, lineBase, {data: p.red, z: 3,
    lineStyle: {color: '#111', width: 1.3}}));
  // masked region, dotted
  series.push(Object.assign({}, lineBase, {data: p.gap, z: 3,
    lineStyle: {color: '#000', width: 1.2, type: [1.3, 1.5]}}));

  // panel name
  if (p.label === 'HαSB') {
    graphic.push({type: 'text', x: p.labelAt[0], y: p.labelAt[1], silent: true,
      style: {text: 'H{a|α}SB', fill: INK, font: "16px " + textFont, textVerticalAlign: 'middle',
        rich: {a: {fontStyle: 'italic', fontSize: 16, fontFamily: textFont, fill: INK}}}});
  } else {
    graphic.push({type: 'text', x: p.labelAt[0], y: p.labelAt[1], silent: true,
      style: {text: p.label, fill: INK, font: "16px " + textFont, textVerticalAlign: 'middle'}});
  }
});

const chart = echarts.init(document.getElementById('chart'), null, {renderer: 'canvas', width: 1218, height: 1603});
chart.setOption({
  animation: false,
  backgroundColor: '#fff',
  grid: grid,
  xAxis: xAxis,
  yAxis: yAxis,
  series: series,
  graphic: graphic
});
</script>
</body>
</html>
